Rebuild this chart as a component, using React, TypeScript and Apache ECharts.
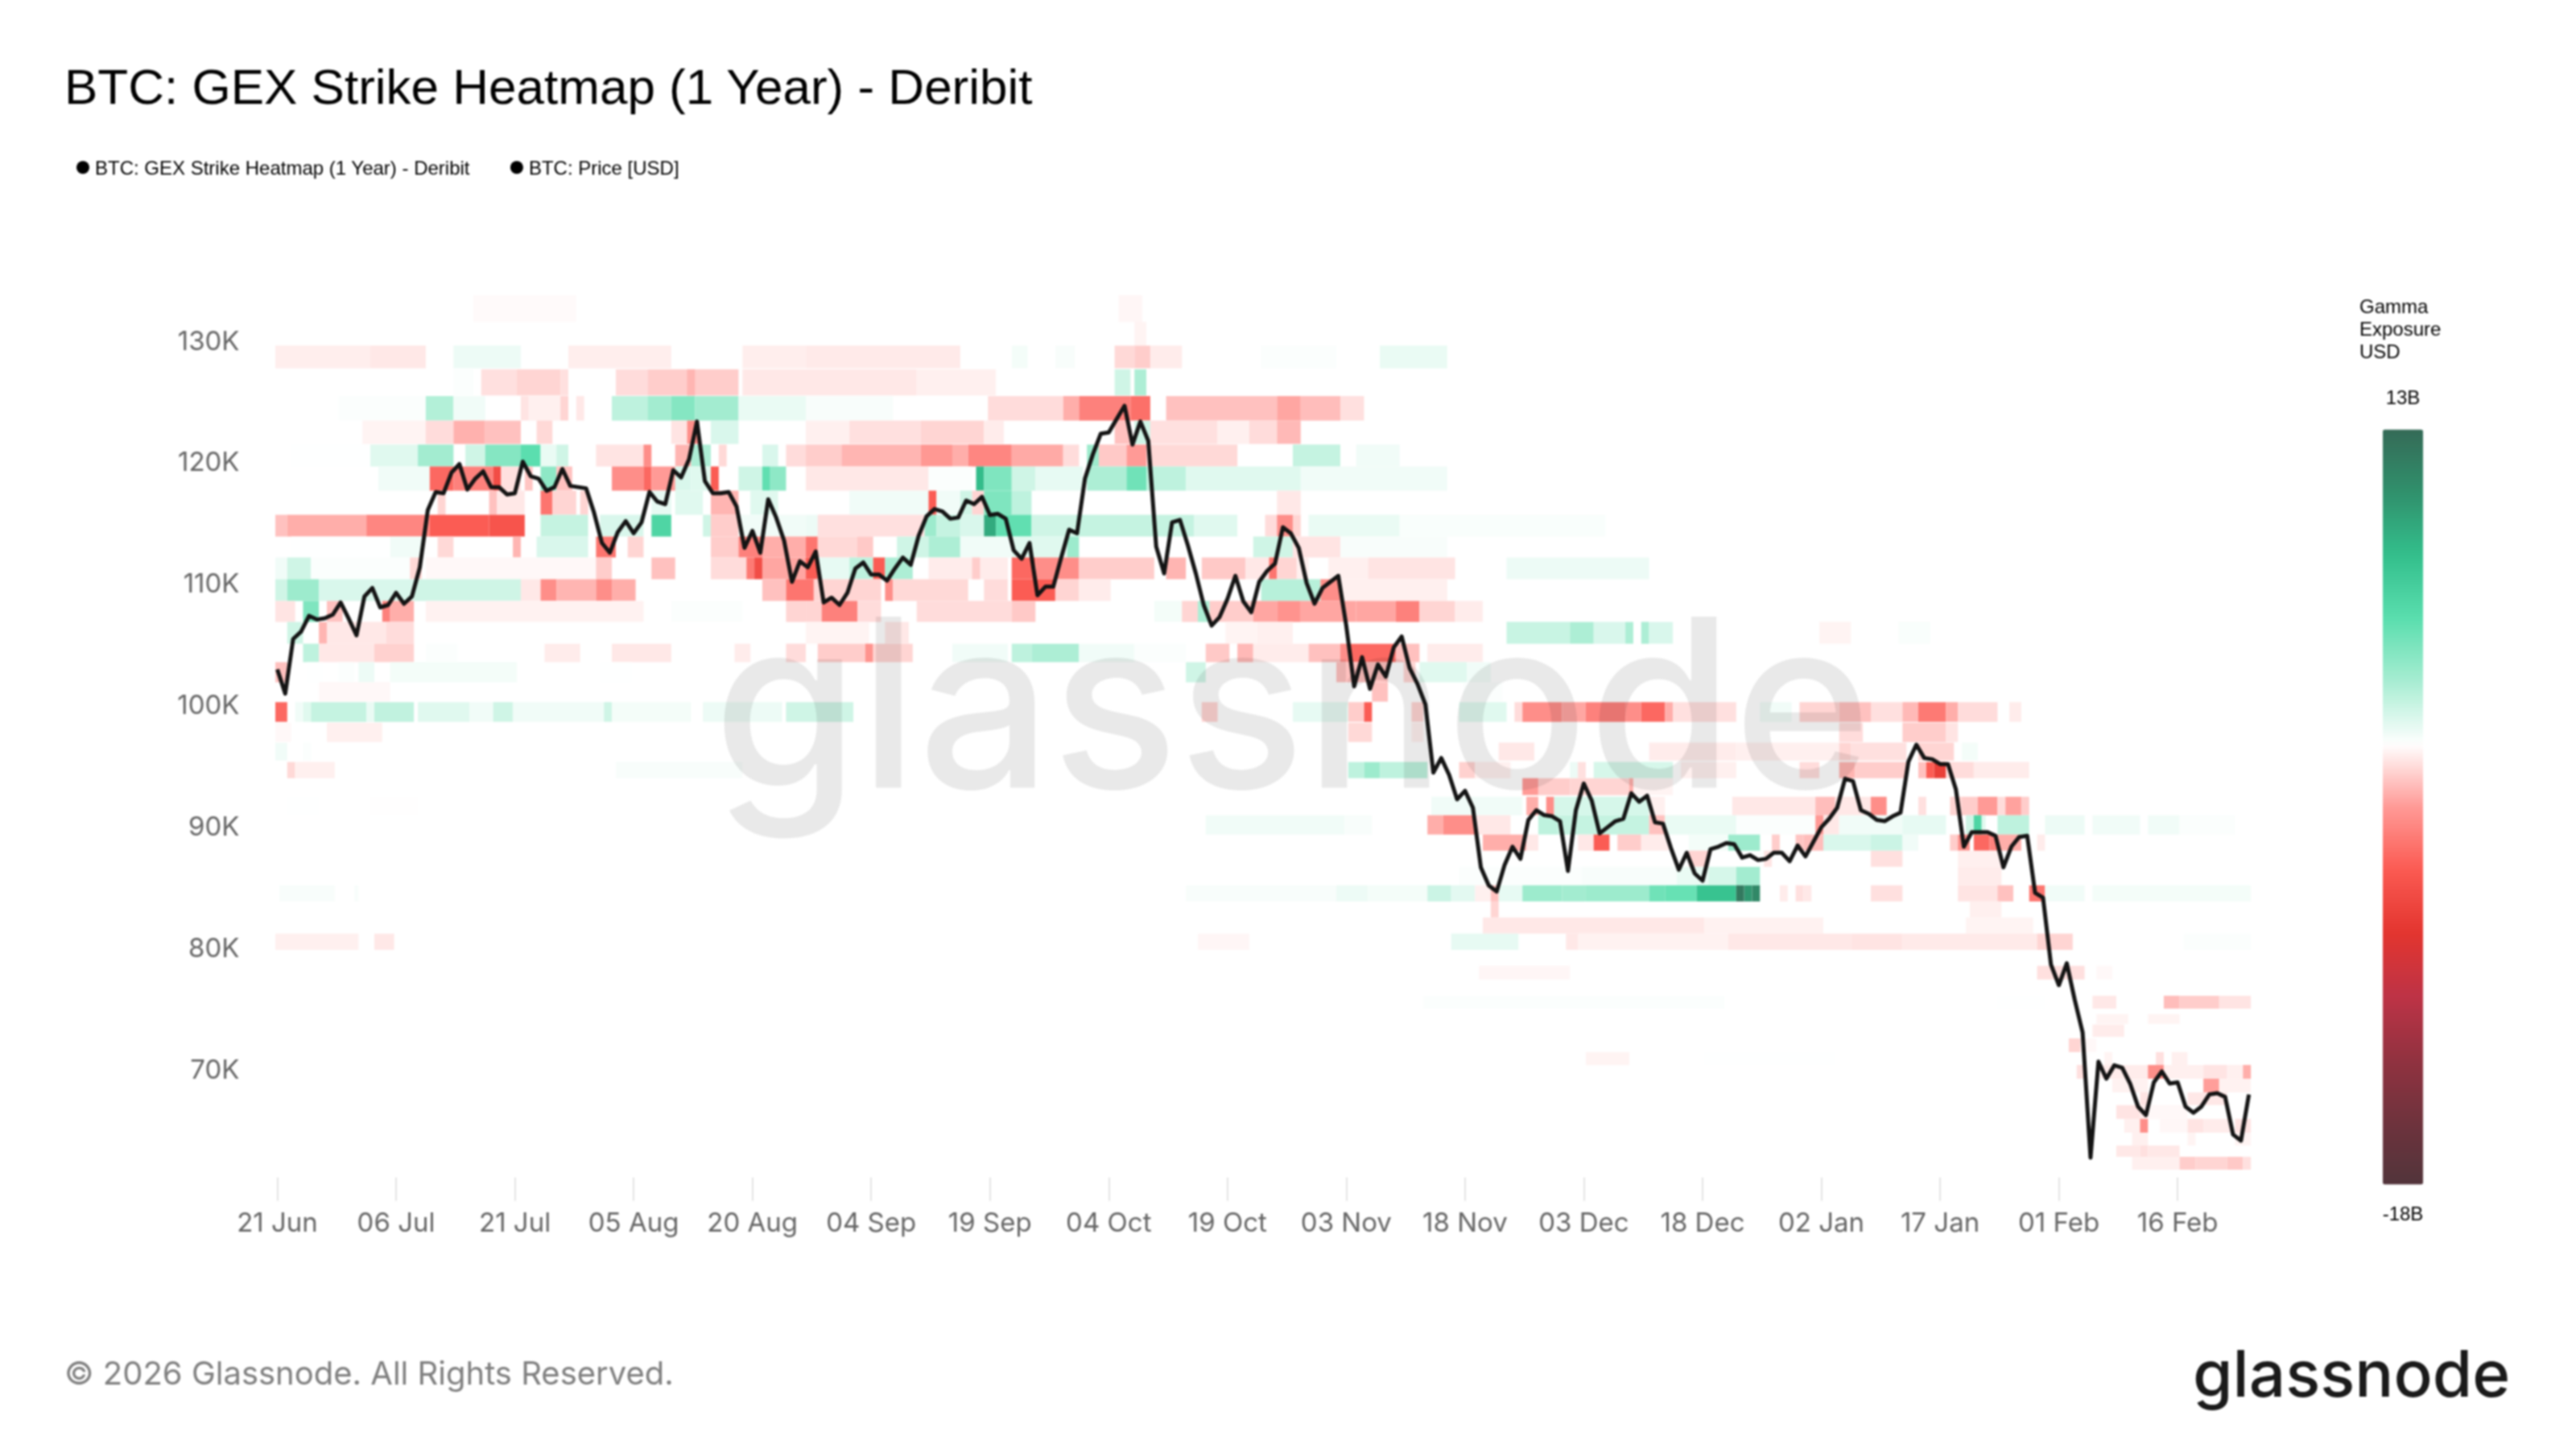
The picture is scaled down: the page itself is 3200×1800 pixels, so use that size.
import React, { useEffect, useRef } from "react";
import * as echarts from "echarts";

const TITLE = "BTC: GEX Strike Heatmap (1 Year) - Deribit";
const PRICE_NAME = "BTC: Price [USD]";
const X_TICK_DAYS = [0, 15, 30, 45, 60, 75, 90, 105, 120, 135, 150, 165, 180, 195, 210, 225, 240];
const X_TICK_LABELS = ["21 Jun", "06 Jul", "21 Jul", "05 Aug", "20 Aug", "04 Sep", "19 Sep", "04 Oct", "19 Oct", "03 Nov", "18 Nov", "03 Dec", "18 Dec", "02 Jan", "17 Jan", "01 Feb", "16 Feb"];

// daily BTC price, in thousands of USD, 21 Jun .. 25 Feb
const PRICE_K = [
  102.9, 100.9, 105.4, 106.0, 107.3, 107.0, 107.1, 107.4, 108.4, 107.1,
  105.7, 108.9, 109.6, 108.0, 108.2, 109.2, 108.3, 108.9, 111.3, 116.0, 117.5, 117.4, 119.1, 119.8, 117.7, 118.6, 119.2, 117.9, 117.9, 117.3, 117.4, 120.0, 118.8, 118.6, 117.6, 117.9, 119.4, 118.0, 117.9, 117.8, 115.8,
  113.3, 112.5, 114.2, 115.1, 114.1, 115.0, 117.5, 116.7, 116.5, 119.3, 118.7, 120.2, 123.3, 118.4, 117.4, 117.4, 117.5, 116.3, 112.9, 114.3, 112.5, 116.9, 115.4, 113.5, 110.1, 111.8, 111.3, 112.6, 108.4, 108.8, 108.2,
  109.2, 111.2, 111.7, 110.7, 110.7, 110.2, 111.2, 112.1, 111.5, 113.9, 115.5, 116.1, 115.9, 115.3, 115.4, 116.8, 116.5, 117.1, 115.6, 115.7, 115.3, 112.7, 112.0, 113.3, 109.0, 109.7, 109.7, 112.1, 114.4, 114.1,
  118.6, 120.6, 122.3, 122.4, 123.5, 124.6, 121.4, 123.3, 121.7, 113.0, 110.8, 115.0, 115.2, 113.1, 110.8, 108.2, 106.5, 107.2, 108.7, 110.6, 108.5, 107.6, 110.1, 111.0, 111.6, 114.6, 114.1, 112.9, 110.0, 108.3, 109.6,
  110.1, 110.6, 106.5, 101.5, 103.9, 101.3, 103.3, 102.3, 104.7, 105.6, 103.0, 101.7, 100.0, 94.4, 95.6, 94.2, 92.2, 92.9, 91.5, 86.6, 85.1, 84.6, 86.8, 88.3, 87.3, 90.5, 91.3, 90.9, 90.8, 90.4,
  86.3, 91.3, 93.5, 92.1, 89.4, 89.9, 90.4, 90.6, 92.7, 92.0, 92.5, 90.3, 90.2, 88.2, 86.4, 87.8, 86.1, 85.5, 88.1, 88.3, 88.6, 88.5, 87.4, 87.6, 87.2, 87.3, 87.8, 87.8, 87.1, 88.4, 87.5,
  88.7, 89.9, 90.6, 91.5, 93.9, 93.7, 91.3, 91.0, 90.5, 90.4, 90.8, 91.1, 95.3, 96.7, 95.6, 95.5, 95.1, 95.1, 93.0, 88.3, 89.5, 89.5, 89.5, 89.2, 86.6, 88.3, 89.1, 89.2, 84.5, 84.1, 78.6,
  76.9, 78.7, 75.7, 73.0, 62.7, 70.6, 69.2, 70.3, 70.1, 68.8, 66.9, 66.2, 68.9, 69.8, 68.8, 68.9, 66.9, 66.4, 66.9, 67.9, 68.0, 67.7, 64.6, 64.1, 67.9,
];

// strike buckets (thousands of USD) and, per bucket, runs [fromDay, toDay, gexBillions]
const STRIKE_LOW = [131.5, 129.55, 127.69, 125.44, 123.38, 121.46, 119.6, 117.61, 115.62, 113.83, 112.11, 110.32, 108.53, 106.8, 105.01, 103.49, 101.83, 100.24, 98.58, 96.92, 95.4, 93.94, 92.55, 90.89, 89.3, 87.97, 86.64, 85.12, 83.79, 82.47, 81.14, 79.81, 77.36, 74.97, 73.71, 72.65, 71.39, 70.33, 69.2, 68.08, 67.02, 65.89, 64.76, 63.7, 62.77, 61.71];
const STRIKE_HIGH = [133.7, 131.5, 129.55, 127.6, 125.4, 123.38, 121.4, 119.6, 117.61, 115.62, 113.83, 112.11, 110.32, 108.53, 106.8, 105.01, 103.49, 101.83, 100.2, 98.5, 96.86, 95.27, 93.94, 92.41, 90.89, 89.3, 87.97, 86.64, 85.12, 83.79, 82.47, 81.14, 78.49, 76.03, 74.51, 73.65, 72.52, 71.39, 70.33, 69.2, 68.08, 67.02, 65.89, 64.76, 63.7, 62.77];
const STRIKE_RUNS = [
  [[25, 38, -0.05], [106.5, 109.5, -0.15]],
  [[108.5, 110, -0.2]],
  [[0, 12, -0.35], [12, 19, -0.5], [22.5, 31, 0.6], [37, 50, -0.35], [59, 67, -0.35], [67, 86.5, -0.45], [93, 95, 0.4], [98.5, 101, 0.3], [106, 108.5, -0.9], [108.5, 110.5, -1.2], [110.5, 114.5, -0.4], [124.5, 134, 0.2], [139.5, 148, 0.7]],
  [[22.5, 25, 0.2], [26, 30.5, -0.7], [30.5, 36, -1], [36, 37, -0.7], [43, 47, -0.8], [47, 58.5, -1.2], [52, 53, -1.8], [59, 67, -0.5], [67, 81, -0.5], [81, 91, -0.3], [106, 108, 1.5], [108.5, 110, 2.5]],
  [[8, 19, 0.2], [19, 22.5, 2.3], [22.5, 26.5, 0.5], [31, 32, -0.6], [32, 36, -0.3], [36, 37, -1], [38, 39, -0.5], [42.5, 47, 2], [47, 50, 2.8], [50, 53, 3.8], [53, 58.5, 2.8], [58.5, 67, 0.7], [67, 78, 0.3], [90, 99.5, -0.8], [99.5, 101.5, -2], [101.5, 108, -3.5], [108, 110.5, -4.2], [112.5, 126.5, -1.5], [126.5, 129.5, -2.2], [129.5, 134.5, -1.6], [134.5, 137.5, -0.7]],
  [[11, 19, -0.2], [19, 22.5, -0.8], [22.5, 26.5, -1.9], [26.5, 31, -1.5], [33, 35, -0.9], [50, 52, -0.6], [52, 53.5, -3], [55, 58.5, 1.2], [67, 72.5, -0.3], [72.5, 81.5, -0.7], [81.5, 89.5, -1], [89.5, 92, -0.4], [106, 108, -1.5], [108.5, 110.5, 1.5], [110.5, 119, -0.7], [119, 123, -0.3], [123, 126.5, -0.8], [126.5, 129.5, -1.7]],
  [[2, 12, 0.1], [12, 18, 1], [18, 22.5, 2.8], [24, 26.5, 1.5], [26.5, 31, 3.8], [31, 33.5, 5.2], [33.5, 35.5, 0.7], [35.5, 37, 1.5], [40.5, 46.5, -0.6], [46.5, 47.5, -3], [50.5, 52.5, -1.8], [52.5, 55, 2.5], [56, 57, -0.9], [61.5, 63.5, 1.2], [64.5, 67, -0.8], [67, 71.5, -1.2], [71.5, 81.5, -1.8], [81.5, 85.5, -2.6], [85.5, 87.5, -2], [87.5, 93, -3.3], [93, 99.5, -2.1], [99.5, 101.5, -0.8], [102.5, 104, 3], [104, 107.5, -1.3], [107.5, 110, -2.5], [110, 121.5, -0.9], [128.5, 134.5, 1.8], [136.5, 142, 0.5]],
  [[13, 19.5, 0.5], [19.5, 22.5, -4.5], [22.5, 27.5, -3.5], [27.5, 28.5, -6], [28.5, 31, -0.7], [31.5, 32.5, -1.4], [33.5, 35.5, 3.5], [35.5, 37.5, -1.5], [42.5, 46.5, -3], [46.5, 47.5, -4.5], [47.5, 50.5, -2.5], [50.5, 52.5, 1.2], [52.5, 55, 1], [55, 56, -5], [58.5, 61.5, 1.5], [61.5, 62.5, 5], [62.5, 64.5, 3.5], [67, 82.5, -0.5], [82.5, 88, 0.2], [88.5, 89.5, 8], [89.5, 93, 4], [93, 96, 1.5], [96, 102, 0.8], [102.5, 107.5, 2.5], [107.5, 110, 4.5], [110, 115, 2], [115, 129.5, 1], [129.5, 148, 0.5]],
  [[20.5, 21.5, -1], [27, 28, -1.5], [28, 31.5, -0.5], [33.5, 35, -4], [35, 38, -1], [38.5, 39.5, -1], [47.5, 50, 0.8], [50.5, 54, 1], [55, 58.5, -1.8], [60, 63.5, 1], [72.5, 82.5, 0.5], [82.5, 83.5, -5], [83.5, 86.5, 0.5], [86.5, 88, 1.5], [88, 89.5, -1], [89.5, 93, 4], [93, 95.5, 2], [126.5, 129.5, -0.5]],
  [[0, 1.5, -1.5], [1.5, 11.5, -2], [11.5, 19.5, -3.3], [19.5, 27, -5], [27, 31.5, -5.5], [33.5, 39.5, 1.8], [41, 46.5, 1.2], [47.5, 50, 6], [54, 55, 1.5], [55, 58.5, -1.2], [58.5, 67, 0.5], [67, 68.5, 0.6], [68.5, 82, -0.7], [82, 83.5, 3], [83.5, 86.5, 1.8], [86.5, 89.5, 1.2], [89.5, 91, 9], [91, 95.5, 5], [95.5, 101, 1.5], [101, 116, 1.8], [116, 121.5, 1], [125, 126.5, -0.8], [126.5, 128.5, -3], [128.5, 129.5, -1], [130.5, 142, 0.7], [142, 168, 0.25]],
  [[14.5, 18.5, 0.5], [2, 14.5, 0.1], [20.5, 22.5, -0.9], [30, 31, -1.8], [33, 39.5, 1.2], [40.5, 43, -4], [44.5, 46.5, -1], [55, 58.5, -1.2], [58.5, 61.5, -3.5], [61.5, 67, -2], [67, 68.5, -4], [68.5, 73.5, -0.9], [73.5, 75.5, -1.3], [78.5, 82.5, 1.5], [82.5, 86.5, 2.5], [86.5, 93, 0.5], [93, 100, 1], [100, 101.5, 3], [123.5, 128.5, 1.5], [128.5, 134.5, -0.6], [134.5, 148, 0.3]],
  [[0, 1.5, 0.5], [1.5, 4.5, 1.5], [4.5, 17, 0.2], [17, 18.5, -0.9], [19, 40.5, -0.1], [40.5, 42.5, -1.2], [47.5, 50.5, -1.5], [55, 59.5, -0.8], [59.5, 60.5, -3.8], [60.5, 61.5, -6], [61.5, 67, -2.2], [67, 68.5, -5], [68.5, 72.5, 0.8], [72.5, 75.5, 2], [75.5, 77, -5], [77, 80.5, 2.5], [82.5, 92.5, -0.4], [88, 89, -1.2], [93, 96, -4.5], [96, 101.5, -3], [101.5, 111, -1.2], [112.5, 115, -1.8], [117, 122.5, -1.3], [122.5, 125.5, -0.5], [125.5, 126.5, -4], [126.5, 129, -1], [129, 130.5, -0.3], [133, 138, -0.3], [138, 149, -0.6], [155.5, 173.5, 0.6]],
  [[0, 1.5, 1.5], [1.5, 5.5, 3], [5.5, 17.5, 1.2], [17.5, 31, 1.5], [31, 33.5, -0.5], [33.5, 35.5, -3], [35.5, 40.5, -1.8], [40.5, 42.5, -3], [42.5, 45.5, -2], [61.5, 64.5, -1.5], [64.5, 68, -4], [68, 76.5, -1], [77, 78, -3], [78, 87.5, -0.9], [89.5, 92.5, -0.8], [93, 98.5, -5], [98.5, 101.5, -1], [101.5, 105.5, -0.4], [124.5, 132, 2.2], [132, 134.5, -3], [134.5, 148, -0.3]],
  [[0, 2.5, -0.6], [3.5, 5.5, 4], [6.5, 8.5, -1.5], [13.5, 14.5, -3.5], [14.5, 17.5, -2], [19, 46.5, -0.25], [50, 59, 0.2], [64.5, 67, -1], [67, 69, -1], [69, 73.5, -3.5], [73.5, 76.5, -0.8], [81, 93, -0.8], [93, 96, -1.3], [111, 114.5, 0.4], [114.5, 116.5, -1], [116.5, 118, 2.5], [118, 123.5, -1.2], [123.5, 126.5, -2.2], [126.5, 129.5, -2.8], [129.5, 136.5, -2.2], [136.5, 141.5, -2.2], [141.5, 144.5, -3.5], [144.5, 149, -1], [149, 152.5, -0.4]],
  [[1.5, 3.5, 1.5], [5.5, 6.5, -1.8], [6.5, 14, -0.5], [14, 17.5, -0.8], [67, 75, -0.2], [77, 80, -0.5], [120, 124, -0.2], [124, 128.5, -0.3], [155.5, 163.5, 1.7], [163.5, 166.5, 2.5], [166.5, 170.5, 1.2], [170.5, 171.5, 2.5], [172.5, 173.5, 2.5], [173.5, 176.5, 1.2], [195, 199, -0.2], [205, 209, 0.25]],
  [[3.5, 5.5, 2], [5.5, 12.5, -0.5], [12.5, 17.5, -1.1], [19, 23, 0.2], [34, 38.5, -0.4], [42.5, 50, -0.5], [58, 60, -0.4], [64.5, 67, -0.8], [68.5, 74.5, -1.2], [74.5, 75.5, -2.8], [75.5, 80.5, -1], [85.5, 92.5, 0.5], [93, 95.5, 2], [95.5, 101.5, 2.5], [101.5, 108.5, 0.5], [108.5, 115, 0.2], [117.5, 120.5, -1.3], [121.5, 123.5, -1.7], [123.5, 130.5, -0.4], [130.5, 134.5, -1.5], [134.5, 135.5, -3], [135.5, 141.5, -4.5], [141.5, 144.5, -1.5], [145.5, 152.5, -0.4]],
  [[0, 1.5, -1.5], [4, 6, 0.1], [8, 10, 0.2], [10.5, 12.5, 0.6], [14.5, 30.5, 0.4], [41, 45, 0.1], [115, 117.5, 1.5], [134, 140.5, -1.5], [142.5, 144, -1], [144.5, 150.5, 1], [150.5, 153.5, 0.5]],
  [[5.5, 14.5, -0.1], [138.5, 140.5, -1.5], [150, 155, 0.2]],
  [[0, 1.5, -4.5], [2.5, 3.5, 0.5], [3.5, 4.5, 1], [4.5, 11.5, 1.8], [11.5, 12.5, 0.7], [12.5, 17.5, 1.9], [18, 24.5, 1], [24.5, 27.5, 0.5], [27.5, 30, 1.5], [30, 41.5, 0.5], [41.5, 42.5, 1.5], [42.5, 52.5, 0.4], [54, 64, 0.6], [64.5, 73, 1.5], [117, 119, -1], [128.5, 135.5, 0.8], [135.5, 137.5, -1.2], [137.5, 138.5, -5], [143.5, 145, -1], [149.5, 155.5, 1], [156.5, 157.5, -0.8], [157.5, 162.5, -3], [162.5, 165.5, -2.2], [165.5, 170.5, -3.5], [170.5, 172.5, -3], [172.5, 175.5, -4.5], [175.5, 176.5, -2], [176.5, 184.5, -0.7], [187.5, 191.5, 0.5], [192.5, 197.5, -1], [197.5, 201.5, -1.5], [201.5, 205.5, -0.7], [205.5, 207.5, -1.7], [207.5, 211, -3.8], [211, 212.5, -2], [212.5, 217.5, -0.8], [219, 220.5, -0.4]],
  [[0, 2, -0.1], [6.5, 13.5, -0.3], [135.5, 138.5, -0.9], [143.5, 145, -0.3], [197.5, 200.5, -0.8], [205.5, 211, -1.2], [211, 212.5, -0.6]],
  [[0, 1.5, 0.5], [3.5, 4.5, 0.2], [154.5, 159, -0.5], [173.5, 184.5, -0.4], [184.5, 197.5, -0.3], [197.5, 199, -1], [199, 206, -0.7], [207.5, 212, -1], [213, 215, 0.4]],
  [[1.5, 2.5, -0.9], [2.5, 7.5, -0.3], [43, 59, 0.3], [135.5, 137.5, 2], [137.5, 139.5, 3], [139.5, 145.5, 2], [149.5, 151.5, -1.1], [151.5, 156, -0.3], [163.5, 164.5, 0.6], [164.5, 165.5, -0.7], [166.5, 176.5, 1.3], [177.5, 184.5, -0.3], [192.5, 195, -0.8], [197.5, 199.5, -1.8], [199.5, 206, -1.2], [207.5, 208.5, -1.5], [208.5, 209.5, -5], [209.5, 211, -7], [211, 214.5, -0.8], [214.5, 221.5, -0.4]],
  [[157.5, 159.5, -2.5], [159.5, 163.5, -1.2], [163.5, 171, -1], [171, 171.5, -2], [171.5, 176.5, -0.2]],
  [[1.5, 5.5, 0.1], [12, 18, 0.05], [146, 157.5, 0.5], [158, 159.5, -2], [160.5, 161.5, -3], [161.5, 173.5, 1.3], [173.5, 175.5, -0.3], [184, 194.5, -0.5], [194.5, 197, -1.6], [197, 201.5, -0.5], [201.5, 203.5, -3], [207.5, 208.5, -0.7], [211.5, 213, -1], [213, 215, -1.2], [215, 217.5, -2.5], [217.5, 218.5, -0.8], [218.5, 220.5, -2.3], [220.5, 221.5, -1.2]],
  [[117.5, 135, 0.5], [135, 138.5, 0.3], [145.5, 147.5, -2], [147.5, 151.5, -3], [151.5, 156, -0.5], [159.5, 162, 2], [162, 173.5, 1.8], [173.5, 175.5, -1.5], [175.5, 184.5, 0.7], [184.5, 194.5, 0.2], [194.5, 195.5, -2.5], [195.5, 197.5, -0.5], [197.5, 205.5, 0.5], [205.5, 211, 0.8], [213.5, 214.5, 1.5], [214.5, 215.5, 6], [215.5, 216, 1], [217.5, 221.5, 2], [223.5, 228.5, 0.6], [229.5, 235.5, 0.5], [236.5, 240.5, 0.5], [240.5, 247.5, 0.2]],
  [[152.5, 158, -2], [158, 159.5, -0.5], [164.5, 166.5, -0.5], [166.5, 168.5, -5], [169.5, 172.5, -1.2], [172.5, 176, -0.4], [178.5, 183.5, 0.4], [183.5, 187.5, 3], [189, 190, -1.2], [192, 193, -1.4], [193, 195.5, -1.6], [195.5, 201.5, 1.2], [201.5, 205.5, 1.6], [205.5, 207.5, 0.5], [211.5, 212.5, -1.2], [212.5, 214, -3], [214.5, 216.5, -4.5], [216.5, 217.5, -3.5], [217.5, 220.5, -2], [222.5, 223.5, -0.4]],
  [[178.5, 181, -1], [188, 189, -0.6], [201.5, 205.5, -0.7], [212.5, 218, -0.3]],
  [[149.5, 165, 0.2], [165, 177, 0.3], [177, 181, 0.7], [181, 184.5, 1.3], [184.5, 187.5, 2.8], [212.5, 218, -0.4]],
  [[0.5, 7.5, 0.3], [10, 10.5, 0.3], [115, 134, 0.3], [134, 138, 0.6], [138, 145.5, 0.4], [145.5, 148.5, 1.6], [148.5, 151.5, 0.9], [151.5, 153.5, -0.3], [153.5, 154.5, -1.5], [154.5, 157.5, 0.8], [157.5, 162.5, 3], [162.5, 165.5, 2.8], [165.5, 173.5, 3], [173.5, 175.5, 4.5], [175.5, 179.5, 4.8], [179.5, 184.5, 7.5], [184.5, 185.5, 12], [185.5, 186.5, 10], [186.5, 187.5, 11], [190, 191, -0.4], [192, 193, -0.7], [193, 194, -0.5], [201.5, 205.5, -0.7], [212.5, 217.5, -0.6], [217.5, 219.5, -1.5], [221.5, 223.5, -4], [223.5, 228.5, 0.5], [229.5, 249.5, 0.4]],
  [[153.5, 154.5, -1], [214, 218, -0.3]],
  [[152.5, 180.5, -0.5], [180.5, 195.5, -0.25], [213.5, 222, -0.2]],
  [[0, 10.5, -0.3], [12.5, 15, -0.5], [116.5, 123, -0.15], [148.5, 157, 0.8], [163, 164.5, -0.5], [164.5, 183.5, -0.25], [183.5, 199, -0.5], [199, 205.5, -0.6], [205.5, 222.5, -0.45], [222.5, 227, -1], [241, 249.5, 0.2]],
  [[152, 163.5, -0.15], [222.5, 228.5, -0.7], [230, 232, -0.1]],
  [[145, 183, 0.2], [183, 212, 0.08], [217.5, 223.5, 0.1], [229.5, 232.5, -0.5], [238.5, 240.5, -1.6], [240.5, 245.5, -1.2], [245.5, 249.5, -0.6]],
  [[230, 234, -0.2], [236.5, 240.5, -0.2]],
  [[229.5, 233.5, -0.4]],
  [[226.5, 228, -1], [228, 230, -0.1]],
  [[165.5, 171, -0.2], [180.5, 197, 0.1], [231, 232, -0.2], [237.5, 238.5, -0.7], [239.5, 241.5, -0.3]],
  [[227.5, 228.5, -0.7], [230.5, 236.5, -0.4], [236.5, 238.5, -3], [238.5, 243.5, -0.3], [243.5, 246.5, -0.6], [246.5, 248.5, -0.3], [248.5, 249.5, -2]],
  [[232, 236.5, -0.25], [243.5, 245.5, -2.4], [245.5, 249.5, -0.25]],
  [[235.5, 236.5, -0.6], [241.5, 246.5, -0.5]],
  [[232.5, 235.5, -0.6], [235.5, 236.5, -0.4], [236.5, 241.5, -0.1]],
  [[233.5, 235.5, -0.3], [235.5, 236.5, -3], [238, 241.5, -0.12], [241.5, 243.5, -0.6], [243.5, 247, -0.4], [247.5, 249.5, -0.6]],
  [[234.5, 236.5, -0.3], [241.5, 242.5, -0.2], [247.5, 249.5, -0.2]],
  [[232.5, 235.5, -0.5], [235.5, 236.5, -0.7], [236.5, 240.5, -0.5]],
  [[234.5, 240.5, -0.3], [240.5, 242.5, -1.2], [242.5, 246.5, -1], [246.5, 248.5, -1.3], [248.5, 249.5, -0.7]],
];

const SCALE_MIN = -18;
const SCALE_MAX = 13;
const SCALE_COLORS = ["#52343b", "#6f333d", "#923240", "#be3346", "#e3352f", "#fb5a52", "#ff9a96", "#ffffff", "#a7edd2", "#5adeae", "#33bf8c", "#30906c", "#356b57"];
const SCALE_LABELS = ["13B", "-18B"];
const SCALE_TITLE = ["Gamma", "Exposure", "USD"];

// x offset of the heatmap's cells relative to the price points, in days
const CELL_SHIFT = 0.25;

export default function App() {
  const ref = useRef<HTMLDivElement>(null);
  useEffect(() => {
    document.body.style.margin = "0";
    const chart = echarts.init(ref.current!, null, { renderer: "svg" });
    const cells: number[][] = [];
    STRIKE_RUNS.forEach((runs, r) => {
      runs.forEach((run) => {
        cells.push([run[0], run[1], STRIKE_LOW[r] * 1000, STRIKE_HIGH[r] * 1000, run[2]]);
      });
    });
    chart.setOption({
      animation: false,
      backgroundColor: "#ffffff",
      title: {
        text: TITLE,
        left: 80,
        top: 76,
        padding: 0,
        textStyle: { fontFamily: "Liberation Sans", fontSize: 62, fontWeight: 400, color: "#000000" },
      },
      legend: {
        left: 95,
        top: 196,
        padding: 0,
        itemWidth: 16,
        itemHeight: 16,
        itemGap: 50,
        icon: "circle",
        selectedMode: false,
        textStyle: { fontFamily: "Liberation Sans", fontSize: 24, color: "#000000", padding: [0, 0, 0, 2] },
        data: [
          { name: TITLE, icon: "circle", itemStyle: { color: "#000000" } },
          { name: PRICE_NAME, icon: "circle", itemStyle: { color: "#000000" } },
        ],
      },
      grid: { left: 344.5, top: 347.1, width: 2459, height: 1131.7, containLabel: false },
      xAxis: {
        type: "value",
        min: 0,
        max: 250,
        offset: -16,
        splitLine: { show: false },
        axisLine: { show: false },
        axisTick: { show: true, length: 29, customValues: X_TICK_DAYS, lineStyle: { color: "#e4e4e4", width: 2 } },
        axisLabel: {
          customValues: X_TICK_DAYS,
          margin: 39,
          fontFamily: "Inter",
          fontSize: 33,
          color: "#666666",
          formatter: (d: number) => X_TICK_LABELS[X_TICK_DAYS.indexOf(d)] ?? "",
        },
      },
      yAxis: {
        type: "value",
        min: 60000,
        max: 135000,
        interval: 10000,
        splitLine: { show: false },
        axisLine: { show: false },
        axisTick: { show: false },
        axisLabel: {
          showMinLabel: false,
          showMaxLabel: false,
          margin: 47,
          fontFamily: "Inter",
          fontSize: 33,
          color: "#666666",
          formatter: (v: number) => `${v / 1000}K`,
        },
      },
      visualMap: {
        type: "continuous",
        seriesIndex: 0,
        dimension: 4,
        min: SCALE_MIN,
        max: SCALE_MAX,
        calculable: false,
        hoverLink: false,
        padding: 0,
        left: 2960,
        top: 533.5,
        itemWidth: 50,
        itemHeight: 938,
        text: ["", ""],
        showLabel: false,
        inRange: { color: SCALE_COLORS },
      },
      graphic: {
        elements: [
          {
            type: "text",
            x: 886,
            y: 726,
            z: 50,
            silent: true,
            style: { text: "glassnode", fontFamily: "Inter", fontWeight: 500, fontSize: 292, fill: "#000000", opacity: 0.085 },
          },
          ...SCALE_TITLE.map((t, i) => ({
            type: "text",
            x: 2931,
            y: 368 + i * 28,
            style: { text: t, fontFamily: "Liberation Sans", fontSize: 24, fill: "#000000" },
          })),
          {
            type: "text",
            x: 2985,
            y: 481,
            style: { text: SCALE_LABELS[0], textAlign: "center", fontFamily: "Liberation Sans", fontSize: 24, fill: "#000000" },
          },
          {
            type: "text",
            x: 2985,
            y: 1495,
            style: { text: SCALE_LABELS[1], textAlign: "center", fontFamily: "Liberation Sans", fontSize: 24, fill: "#000000" },
          },
          {
            type: "text",
            x: 80,
            y: 1685,
            style: { text: "© 2026 Glassnode. All Rights Reserved.", fontFamily: "Inter", fontSize: 40, fill: "#7f7f7f" },
          },
          {
            type: "text",
            x: 2724,
            y: 1665,
            style: { text: "glassnode", fontFamily: "Inter", fontWeight: 500, fontSize: 80, fill: "#1a1a1a" },
          },
        ],
      },
      series: [
        {
          name: TITLE,
          type: "custom",
          data: cells,
          encode: { x: [0, 1], y: [2, 3] },
          silent: true,
          z: 2,
          renderItem: (_: any, api: any) => {
            const a = api.coord([api.value(0) - CELL_SHIFT, api.value(3)]);
            const b = api.coord([api.value(1) - CELL_SHIFT, api.value(2)]);
            const color = api.visual("color");
            return {
              type: "rect",
              shape: { x: a[0], y: a[1], width: b[0] - a[0], height: b[1] - a[1] },
              style: { fill: color },
            };
          },
        },
        {
          name: PRICE_NAME,
          type: "line",
          z: 60,
          showSymbol: false,
          silent: true,
          data: PRICE_K.map((p, i) => [i, p * 1000]),
          lineStyle: { color: "#141414", width: 5, join: "round" },
        },
      ],
    });
    return () => chart.dispose();
  }, []);
  return <div ref={ref} style={{ position: "absolute", left: 0, top: 0, width: 3200, height: 1800, filter: "blur(0.9px)" }} />;
}
